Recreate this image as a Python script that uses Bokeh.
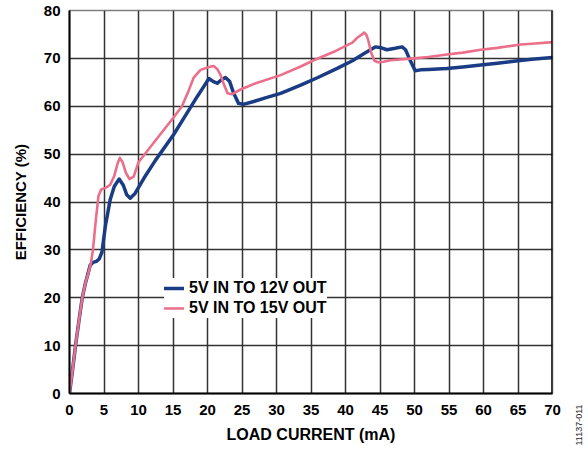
import math
from bokeh.plotting import figure
from bokeh.layouts import row
from bokeh.models import FixedTicker, Span, Legend, LegendItem, Range1d, LinearAxis
from bokeh.embed import file_html
from bokeh.resources import INLINE

# ---- data ----
x_ticks = [0, 5, 10, 15, 20, 25, 30, 35, 40, 45, 50, 55, 60, 65, 70]
y_ticks = [0, 10, 20, 30, 40, 50, 60, 70, 80]

label_12v = "5V IN TO 12V OUT"
label_15v = "5V IN TO 15V OUT"

load_12v = [0, 0.45, 0.9, 1.4, 1.85, 2.3, 2.6, 3.0, 3.4, 3.9,
            4.3, 4.7, 5.2, 5.9, 6.5, 7.2, 7.8, 8.3, 8.8, 9.5,
            10.8, 12.5, 15.1, 17.0, 18.5, 19.5, 20.2, 20.8, 21.4, 22.0,
            22.6, 23.2, 23.8, 24.5, 25.2, 26.7, 28.5, 30.6, 33.5, 36.0,
            38.8, 41.0, 42.7, 43.5, 44.3, 45.2, 46.0, 47.2, 48.2, 48.7,
            49.3, 50.1, 50.9, 52.0, 54.7, 57.0, 59.6, 62.0, 64.4, 67.0,
            70.0]
eff_12v = [0, 5, 10.3, 15.5, 20, 23, 24.6, 26.8, 27.4, 27.6,
           28.1, 29.5, 35, 40.5, 43.3, 44.8, 43.5, 41.5, 40.8, 41.8,
           45.0, 48.8, 54.1, 58.5, 62.0, 64.2, 65.8, 65.2, 64.8, 65.5,
           66.0, 65.2, 62.7, 60.6, 60.4, 61.0, 61.8, 62.7, 64.4, 66.0,
           67.9, 69.5, 71.0, 71.7, 72.4, 72.2, 71.8, 72.1, 72.4, 71.8,
           69.8, 67.4, 67.6, 67.7, 67.9, 68.2, 68.6, 69.0, 69.4, 69.8,
           70.2]

load_15v = [0, 0.45, 0.9, 1.4, 1.85, 2.3, 2.7, 3.1, 3.4, 3.8,
            4.2, 4.6, 5.3, 5.9, 6.5, 7.0, 7.3, 7.7, 8.2, 8.7,
            9.3, 10.0, 12.0, 15.0, 16.3, 17.2, 18.0, 19.0, 20.2, 20.9,
            21.4, 21.9, 22.4, 22.9, 23.5, 24.8, 27.0, 30.6, 33.5, 35.4,
            38.5, 41.0, 41.7, 42.3, 42.7, 43.0, 43.3, 43.7, 44.2, 44.7,
            45.5, 46.5, 49.9, 52.0, 54.7, 57.0, 59.6, 62.0, 65.4, 67.5,
            70.0]
eff_15v = [0, 5, 10.3, 15.5, 20, 23, 25, 27.2, 30, 36,
           41.3, 42.6, 43.0, 43.6, 45.5, 48.2, 49.2, 48.3, 46.0, 44.8,
           45.3, 48.3, 52, 57.5, 60, 63, 66, 67.6, 68.2, 68.4,
           67.8, 66.5, 64.5, 62.7, 62.5, 63.5, 64.8, 66.5, 68.3, 69.6,
           71.5, 73.3, 74.3, 74.9, 75.4, 75.0, 73.8, 71.3, 69.5, 69.2,
           69.3, 69.6, 70.0, 70.3, 70.8, 71.2, 71.8, 72.2, 72.9, 73.1,
           73.4]

figure_code = "11137-011"

FONT = "Liberation Sans"
BLUE = "#1a3c85"
PINK = "#eb6f8a"
H = 448

p = figure(width=566, height=H, output_backend="svg", toolbar_location=None,
           x_range=Range1d(0, 70), y_range=Range1d(0, 80),
           min_border_left=69, min_border_right=14, min_border_top=10,
           min_border_bottom=53)
p.background_fill_color = "white"
p.border_fill_color = "white"
p.outline_line_color = "#808080"
p.outline_line_width = 1.5

p.xaxis.ticker = FixedTicker(ticks=x_ticks)
p.yaxis.ticker = FixedTicker(ticks=y_ticks)
p.xgrid.ticker = FixedTicker(ticks=x_ticks)
p.ygrid.ticker = FixedTicker(ticks=y_ticks)
p.grid.grid_line_color = "#333333"
p.grid.grid_line_width = 1.5
p.grid.grid_line_alpha = 1.0

p.axis.major_tick_out = 0
p.axis.major_tick_in = 0
p.axis.minor_tick_line_color = None
p.axis.axis_line_color = "black"
p.axis.axis_line_width = 2
p.axis.major_label_text_font = FONT
p.axis.major_label_text_font_style = "bold"
p.axis.major_label_text_font_size = "15px"
p.axis.major_label_text_color = "black"
p.axis.axis_label_text_font = FONT
p.axis.axis_label_text_font_style = "bold"
p.axis.axis_label_text_color = "black"
p.xaxis.axis_label_text_font_size = "16px"
p.yaxis.axis_label_text_font_size = "15px"
p.xaxis.major_label_standoff = 11
p.yaxis.major_label_standoff = 9
p.xaxis.axis_label_standoff = 8
p.yaxis.axis_label_standoff = 12
p.xaxis.axis_label = "LOAD CURRENT (mA)"
p.yaxis.axis_label = "EFFICIENCY (%)"

p.add_layout(Span(location=70, dimension="height", line_color="black", line_width=2.5))

r12 = p.line(load_12v, eff_12v, line_color=BLUE, line_width=3.5, line_join="round", line_cap="round")
r15 = p.line(load_15v, eff_15v, line_color=PINK, line_width=2.6, line_join="round", line_cap="round")

legend = Legend(items=[LegendItem(label=label_12v, renderers=[r12]),
                       LegendItem(label=label_15v, renderers=[r15])],
                location=(95, 75), margin=0, padding=4, spacing=0,
                glyph_width=20, glyph_height=20, label_height=20, label_standoff=5,
                label_text_font=FONT, label_text_font_style="bold",
                label_text_font_size="16px", label_text_color="black",
                border_line_color=None, background_fill_color="white",
                background_fill_alpha=1.0)
p.add_layout(legend)

# narrow side strip: its bottom axis carries the vertical figure code
side = figure(width=20, height=H, output_backend="svg", toolbar_location=None,
              x_range=Range1d(0, 20), y_range=Range1d(0, 1),
              x_axis_type=None, y_axis_type=None, min_border=0)
side.outline_line_color = None
side.background_fill_color = "white"
side.border_fill_color = "white"
code_axis = LinearAxis(ticker=FixedTicker(ticks=[12]),
                       major_label_overrides={12: figure_code},
                       major_label_orientation=math.pi / 2,
                       axis_line_color=None, major_tick_line_color=None,
                       minor_tick_line_color=None, major_label_standoff=5,
                       major_label_text_font=FONT, major_label_text_font_size="9px",
                       major_label_text_font_style="normal",
                       major_label_text_color="#222222")
side.add_layout(code_axis, "below")

layout = row(p, side, spacing=0)
open("out.html", "w").write(file_html(layout, INLINE))
